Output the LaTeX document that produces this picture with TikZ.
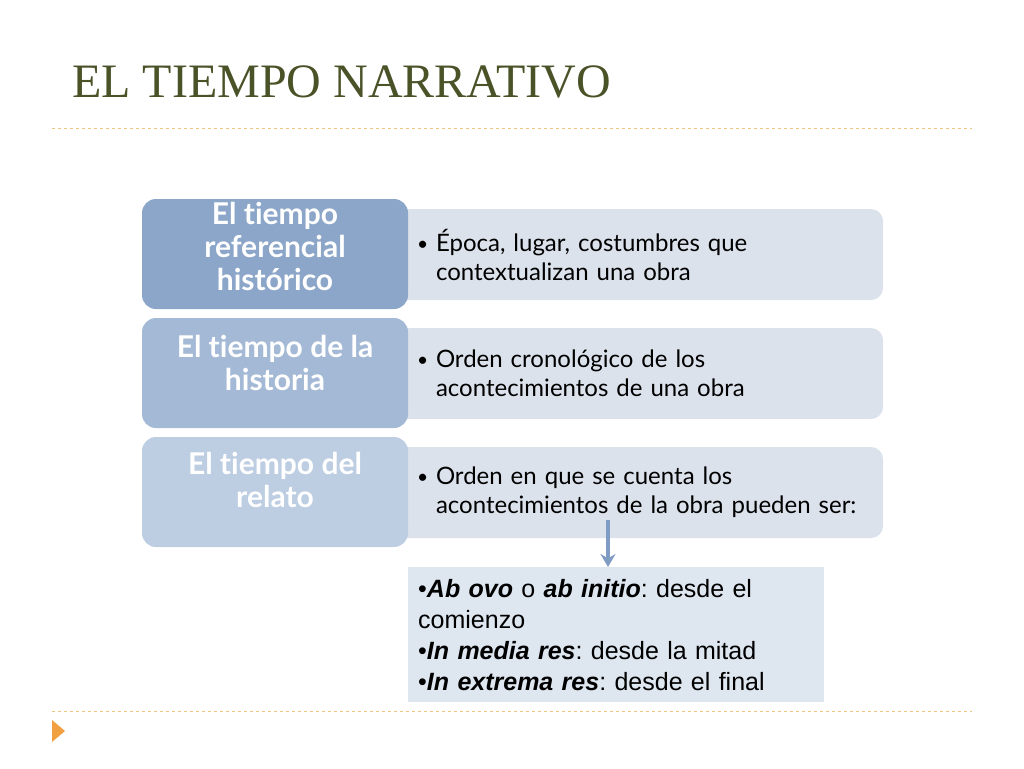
\documentclass[tikz,border=0pt]{standalone}
\usepackage{fontspec}
\setmainfont{Liberation Serif}
\newfontfamily\gillfont[Ligatures={NoCommon,NoDiscretionary,NoRare}]{Lato}
\newfontfamily\helvfont{Liberation Sans}
\usepackage{tikz}
\usetikzlibrary{shapes,arrows.meta,positioning,calc}
\definecolor{titleolive}{RGB}{74,82,40}
\definecolor{rulezone}{RGB}{240,196,130}
\definecolor{markzone}{RGB}{240,160,64}
\definecolor{darkzone}{RGB}{140,166,201}
\definecolor{midzone}{RGB}{164,185,213}
\definecolor{lightzone}{RGB}{189,205,226}
\definecolor{desczone}{RGB}{220,226,236}
\definecolor{listzone}{RGB}{222,230,240}
\definecolor{arrowzone}{RGB}{128,156,196}
\newcommand{\descbullet}{\makebox[15pt][l]{\hspace*{-4pt}\raisebox{1pt}{\scalebox{0.8}{\textbullet}}}}

\begin{document}
\frenchspacing
\begin{tikzpicture}[x=1pt, y=-1pt,
    termbox/.style={rounded corners=14pt, minimum width=266pt, minimum height=110pt},
    termtext/.style={align=center, text=white, font=\gillfont\bfseries\fontsize{30}{33}\selectfont},
    descbox/.style={rounded corners=12pt, fill=desczone, minimum width=488pt,
        minimum height=91pt, align=left, text width=436pt, inner xsep=26pt,
        font=\gillfont\fontsize{24}{29}\selectfont},
    flecha/.style={arrowzone, line width=3.5pt, -{Stealth[length=13pt, width=15pt]}}]
    \useasboundingbox (0,0) rectangle (1024,768);

    % Title and rules
    \node[anchor=base west, text=titleolive, font=\fontsize{48}{52}\selectfont, inner sep=0pt]
        (title) at (72,97) {EL TIEMPO NARRATIVO};
    \draw[rulezone, dashed, line width=1pt] (52,128) -- (972,128);
    \draw[rulezone, dashed, line width=1pt] (52,711) -- (972,711);
    \fill[markzone] (52,720) -- (65,731) -- (52,742) -- cycle;

    % Description boxes (behind)
    \node[descbox] (refdesc) at (639,254.5)
        {\descbullet Época, lugar, costumbres que\\\hspace*{15pt}contextualizan una obra};
    \node[descbox] (histdesc) at (639,373.5)
        {\descbullet Orden cronológico de los\\\hspace*{15pt}acontecimientos de una obra};
    \node[descbox] (reldesc) at (639,492.5)
        {\descbullet Orden en que se cuenta los\\\hspace*{15pt}acontecimientos de la obra pueden ser:};

    % Term boxes (front)
    \node[termbox, fill=darkzone] (ref) at (275,254) {};
    \node[termbox, fill=midzone] (hist) at (275,373) {};
    \node[termbox, fill=lightzone] (rel) at (275,492) {};
    \node[termtext] (reftext) at ([yshift=8pt]ref.center) {El tiempo\\referencial\\histórico};
    \node[termtext] (histtext) at ([yshift=10pt]hist.center) {El tiempo de la\\historia};
    \node[termtext] (reltext) at ([yshift=12pt]rel.center) {El tiempo del\\relato};

    % Modes list
    \node[fill=listzone, minimum width=416pt, minimum height=135pt, anchor=north west,
        align=left, text width=396pt, inner xsep=10pt,
        font=\helvfont\fontsize{25}{31}\selectfont] (list) at (408,567)
        {\textbullet\textbf{\itshape Ab ovo} o \textbf{\itshape ab initio}: desde el\\
         comienzo\\
         \textbullet\textbf{\itshape In media res}: desde la mitad\\
         \textbullet\textbf{\itshape In extrema res}: desde el final};

    % Arrow
    \coordinate (arrowx) at (608,0);
    \draw[flecha] ([yshift=18pt]reldesc.south -| arrowx) -- (list.north -| arrowx);
\end{tikzpicture}
\end{document}
